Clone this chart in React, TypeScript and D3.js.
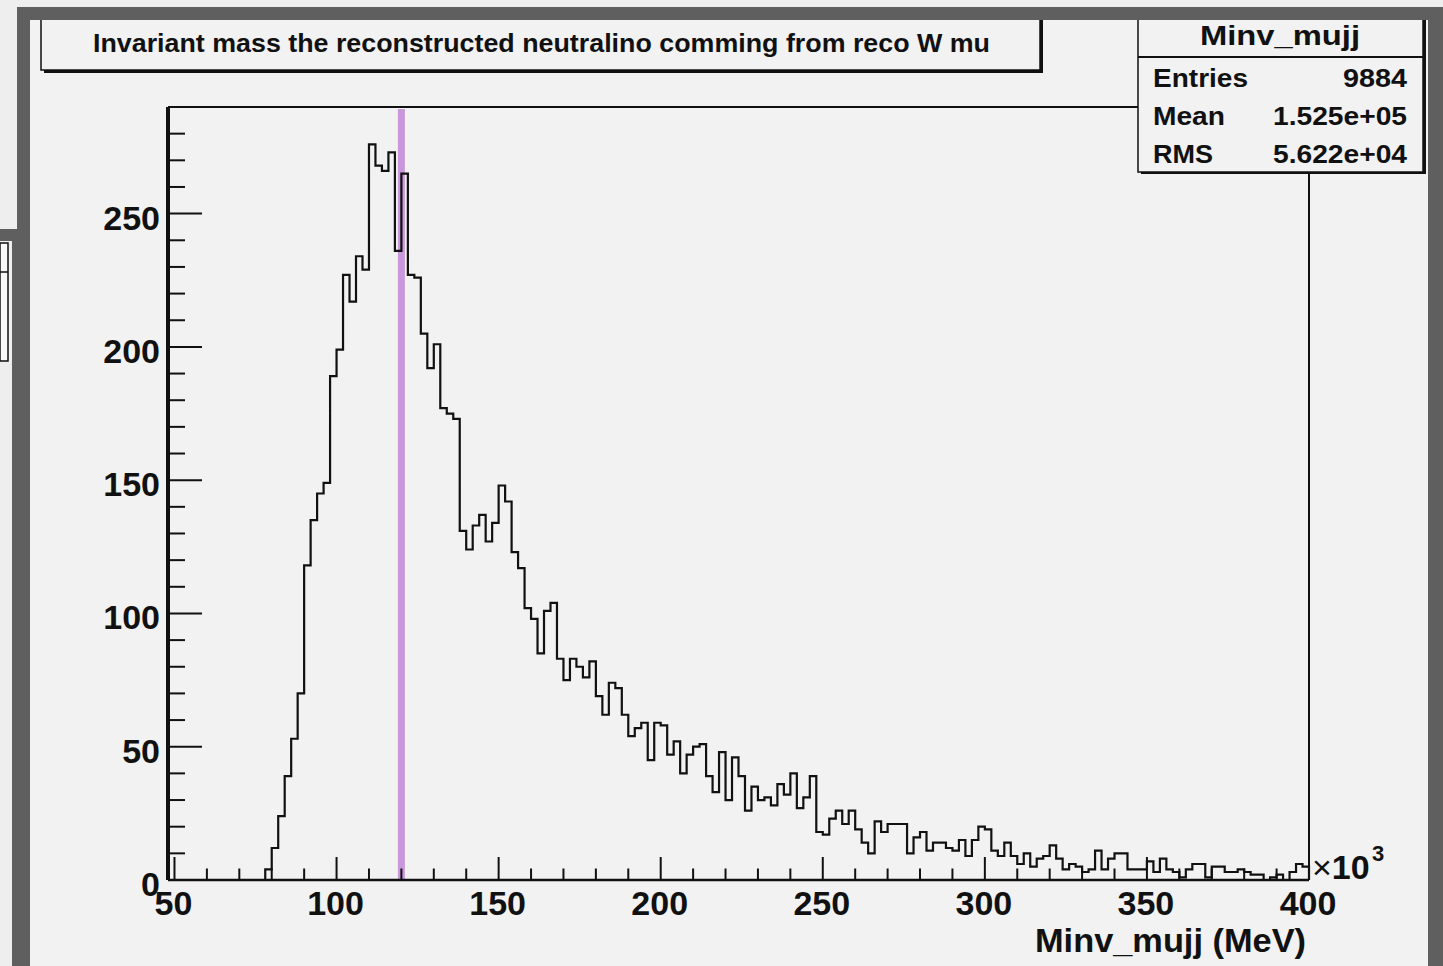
import React from "react";
import * as d3 from "d3";

// ---- data -------------------------------------------------------------
const binLow = 48; // x10^3 MeV
const binHigh = 400;
const binWidth = 2;
const counts: number[] = [
  0, 0, 0, 0, 0, 0, 0, 0, 0, 0, 0, 0, 0, 0, 0,
  4, 12, 24, 39, 53, 70, 118, 135, 145, 149,
  189, 199, 227, 217, 234, 229, 276, 268, 266, 273,
  236, 265, 227, 226, 205, 192, 201, 177, 175, 173,
  131, 124, 133, 137, 127, 134, 148, 142, 123, 117,
  102, 98, 85, 101, 104, 83, 75, 83, 80, 76,
  82, 69, 62, 74, 72, 62, 54, 57, 59, 45,
  59, 58, 47, 52, 40, 47, 50, 51, 39, 33,
  48, 30, 46, 39, 26, 35, 30, 31, 28, 36,
  32, 40, 27, 31, 39, 18, 17, 23, 26, 21,
  26, 19, 14, 10, 22, 18, 21, 21, 21, 10,
  16, 18, 11, 14, 14, 12, 11, 15, 9, 15,
  20, 19, 11, 9, 14, 9, 6, 10, 5, 8,
  9, 13, 8, 4, 6, 5, 3, 4, 11, 4,
  8, 10, 10, 4, 4, 4, 7, 3, 8, 4,
  3, 1, 4, 6, 6, 1, 5, 5, 3, 3,
  4, 3, 2, 2, 0, 1, 2, 0, 3, 6, 5,
];
const referenceMass = 120; // vertical marker
const yMax = 290;
const xMajorTicks = [50, 100, 150, 200, 250, 300, 350, 400];
const yMajorTicks = [0, 50, 100, 150, 200, 250];
const titleText = "Invariant mass the reconstructed neutralino comming from reco W mu";
const statsTitle = "Minv_mujj";
const statsLabels = ["Entries", "Mean", "RMS"];
const statsValues = ["9884", "1.525e+05", "5.622e+04"];
const xAxisTitle = "Minv_mujj (MeV)";

// ---- layout -----------------------------------------------------------
const W = 1443;
const H = 966;
const FL = 168, FT = 107, FR = 1309, FB = 880;
const FONT = "'Liberation Sans', Arial, Helvetica, sans-serif";
const GRAY = "#5f5f5f";
const PANEL = "#f2f2f2";
const INK = "#111";

export default function App() {
  const x = d3.scaleLinear().domain([binLow, binHigh]).range([FL, FR]);
  const y = d3.scaleLinear().domain([0, yMax]).range([FB, FT]);

  const edges = counts.map((_, i) => binLow + i * binWidth);
  let d = `M${x(edges[0])},${y(0)}`;
  counts.forEach((c, i) => {
    d += `V${y(c)}H${x(edges[i] + binWidth)}`;
  });
  d += `V${y(0)}`;

  const xMinor = d3.range(50, 401, 10).filter((v) => v % 50 !== 0);
  const yMinor = d3.range(0, yMax, 10).filter((v) => v % 50 !== 0);
  const yTickLen = 34, xTickLen = 23;

  const statsYs = [87, 125, 163];
  const labelLens = [95, 72, 60];
  const valueLens = [64, 134, 134];

  return (
    <div style={{ position: "absolute", left: 0, top: 0 }}>
      <svg width={W} height={H} style={{ display: "block" }} fontFamily={FONT}>
        {/* outer background */}
        <rect x={0} y={0} width={W} height={H} fill="#eeeeee" />
        {/* panel */}
        <rect x={30} y={20} width={1398} height={H - 20} fill={PANEL} />
        {/* left window fragment */}
        <rect x={0} y={243} width={8} height={118} fill="#f8f8f8" stroke={INK} strokeWidth={1.5} />
        <line x1={0} x2={8} y1={272} y2={272} stroke={INK} strokeWidth={1.5} />

        {/* title box */}
        <rect x={44} y={16} width={999} height={57} fill={INK} />
        <rect x={41} y={13} width={999} height={57} fill={PANEL} stroke={INK} strokeWidth={1.5} />
        <text x={93} y={52} fontSize={26} fontWeight="bold" textLength={897} lengthAdjust="spacingAndGlyphs" fill={INK}>
          {titleText}
        </text>

        {/* frame top/right */}
        <line x1={FL} x2={FR} y1={FT} y2={FT} stroke={INK} strokeWidth={2} />
        <line x1={FR} x2={FR} y1={FT} y2={FB} stroke={INK} strokeWidth={2} />

        {/* reference marker */}
        <line x1={x(referenceMass)} x2={x(referenceMass)} y1={FT + 2} y2={FB} stroke="#c998da" strokeWidth={7} />

        {/* histogram */}
        <path d={d} fill="none" stroke={INK} strokeWidth={2.2} />

        {/* y axis */}
        <line x1={FL} x2={FL} y1={FT} y2={FB} stroke={INK} strokeWidth={4} />
        {yMajorTicks.map((v) => (
          <line key={"ym" + v} x1={FL} x2={FL + yTickLen} y1={y(v)} y2={y(v)} stroke={INK} strokeWidth={2} />
        ))}
        {yMinor.map((v) => (
          <line key={"yn" + v} x1={FL} x2={FL + yTickLen / 2} y1={y(v)} y2={y(v)} stroke={INK} strokeWidth={2} />
        ))}
        {yMajorTicks.map((v) => (
          <text key={"yl" + v} x={160} y={y(v) + 16} textAnchor="end" fontSize={34} fontWeight="bold" fill={INK}>
            {v}
          </text>
        ))}

        {/* x axis */}
        <line x1={FL} x2={FR} y1={FB} y2={FB} stroke={INK} strokeWidth={2.5} />
        {xMajorTicks.map((v) => (
          <line key={"xm" + v} x1={x(v)} x2={x(v)} y1={FB} y2={FB - xTickLen} stroke={INK} strokeWidth={2} />
        ))}
        {xMinor.map((v) => (
          <line key={"xn" + v} x1={x(v)} x2={x(v)} y1={FB} y2={FB - xTickLen / 2} stroke={INK} strokeWidth={2} />
        ))}
        {xMajorTicks.map((v) => (
          <text key={"xl" + v} x={x(v) - 1} y={915} textAnchor="middle" fontSize={34} fontWeight="bold" fill={INK}>
            {v}
          </text>
        ))}
        <text x={1312} y={879} fontSize={34} fontWeight="bold" fill={INK}>
          <tspan fontWeight="normal">×</tspan>10
        </text>
        <text x={1372} y={861} fontSize={22} fontWeight="bold" fill={INK}>3</text>
        <text x={1306} y={952} textAnchor="end" fontSize={33} fontWeight="bold" textLength={271} lengthAdjust="spacingAndGlyphs" fill={INK}>
          {xAxisTitle}
        </text>

        {/* stats box */}
        <rect x={1141} y={17} width={285} height={157} fill={INK} />
        <rect x={1138} y={14} width={285} height={158} fill={PANEL} stroke={INK} strokeWidth={1.5} />
        <line x1={1138} x2={1423} y1={57} y2={57} stroke={INK} strokeWidth={2} />
        <text x={1200} y={45} fontSize={28} fontWeight="bold" textLength={160} lengthAdjust="spacingAndGlyphs" fill={INK}>
          {statsTitle}
        </text>
        {statsLabels.map((s, i) => (
          <text key={"sl" + s} x={1153} y={statsYs[i]} fontSize={26} fontWeight="bold" textLength={labelLens[i]} lengthAdjust="spacingAndGlyphs" fill={INK}>
            {s}
          </text>
        ))}
        {statsValues.map((s, i) => (
          <text key={"sv" + i} x={1407 - valueLens[i]} y={statsYs[i]} fontSize={26} fontWeight="bold" textLength={valueLens[i]} lengthAdjust="spacingAndGlyphs" fill={INK}>
            {s}
          </text>
        ))}

        {/* window frame */}
        <rect x={17} y={7} width={W - 17} height={13} fill={GRAY} />
        <rect x={17} y={7} width={13} height={235} fill={GRAY} />
        <rect x={0} y={229} width={30} height={12} fill={GRAY} />
        <rect x={12} y={229} width={18} height={H - 229} fill={GRAY} />
        <rect x={1428} y={7} width={15} height={H - 7} fill={GRAY} />
      </svg>
    </div>
  );
}
